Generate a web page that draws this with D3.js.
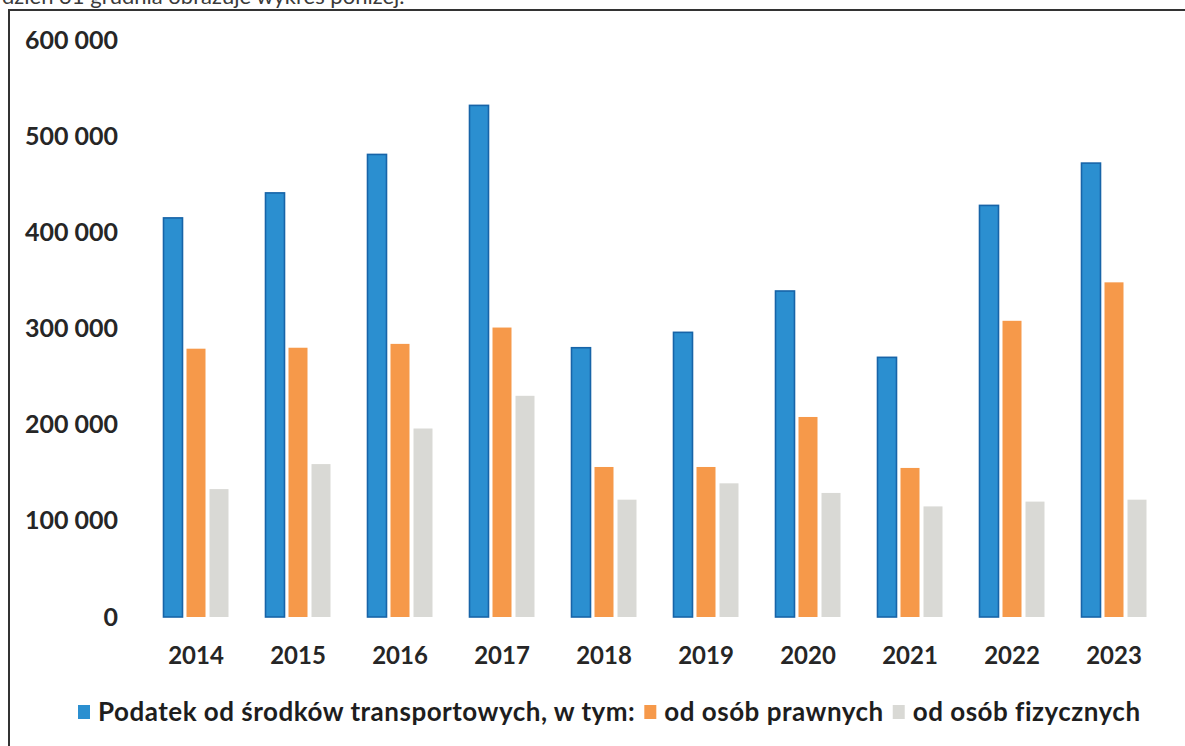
<!DOCTYPE html>
<html>
<head>
<meta charset="utf-8">
<script src="https://cdn.jsdelivr.net/npm/d3@7/dist/d3.min.js"></script>
<style>
  html, body { margin: 0; padding: 0; background: #fff; }
  svg { display: block; }
  text { font-family: Lato, "Open Sans", sans-serif; }
</style>
</head>
<body>
<svg id="chart" width="1185" height="746"></svg>
<script>
const years = ["2014","2015","2016","2017","2018","2019","2020","2021","2022","2023"];
const seriesNames = ["Podatek od środków transportowych, w tym:", "od osób prawnych", "od osób fizycznych"];
const totalTax = [415000, 441000, 481000, 532000, 280000, 296000, 339000, 270000, 428000, 472000];
const legalPersons = [279000, 280000, 284000, 301000, 156000, 156000, 208000, 155000, 308000, 348000];
const naturalPersons = [133000, 159000, 196000, 230000, 122000, 139000, 129000, 115000, 120000, 122000];
const yTicks = [0, 100000, 200000, 300000, 400000, 500000, 600000];
const headerText = "dzień 31 grudnia obrazuje wykres poniżej.";

const colors = ["#2b8fd0", "#f6994a", "#d9d9d5"];
const strokes = ["#1764a8", "none", "none"];
const seriesValues = [totalTax, legalPersons, naturalPersons];

const svg = d3.select("#chart");

// header line of the scanned document (cut by the top edge, as in the scan)
svg.append("text").attr("x", 2).attr("y", 4)
  .attr("font-size", 22).attr("fill", "#3a3a3a").text(headerText);

// frame
svg.append("path")
  .attr("d", "M9,746 L9,10 L1185,10")
  .attr("fill", "none").attr("stroke", "#333").attr("stroke-width", 2);

const y = d3.scaleLinear().domain([0, 600000]).range([617, 40]);
const x = d3.scaleBand().domain(years).range([145, 1165]).paddingInner(0).paddingOuter(0);
const xs = d3.scaleBand().domain(seriesNames).range([-32.5, 32.5]).paddingInner(0.174);

const fmt = v => d3.format(",")(v).replace(/,/g, " ");

// y axis labels
const yAxis = d3.axisLeft(y).tickValues(yTicks).tickFormat(fmt).tickSize(0).tickPadding(0);
const gy = svg.append("g").attr("transform", "translate(118,0)").call(yAxis);
gy.select(".domain").remove();
gy.selectAll("text").attr("font-size", 25).attr("font-weight", 700)
  .attr("fill", "#262626").attr("font-family", "Lato, sans-serif");

// bars
const groups = svg.append("g").selectAll("g").data(years).join("g")
  .attr("transform", d => `translate(${x(d) + x.bandwidth() / 2},0)`);

seriesNames.forEach((s, si) => {
  groups.append("rect")
    .attr("x", xs(s))
    .attr("width", xs.bandwidth())
    .attr("y", (d, i) => y(seriesValues[si][i]))
    .attr("height", (d, i) => y(0) - y(seriesValues[si][i]))
    .attr("fill", colors[si])
    .attr("stroke", strokes[si])
    .attr("stroke-width", si === 0 ? 1.6 : 0);
});

// x axis labels
const xAxis = d3.axisBottom(x).tickSize(0).tickPadding(0);
const gx = svg.append("g").attr("transform", "translate(0,646)").call(xAxis);
gx.select(".domain").remove();
gx.selectAll("text").attr("font-size", 24).attr("font-weight", 700)
  .attr("fill", "#262626").attr("dy", "0.75em").attr("font-family", "Lato, sans-serif");

// legend: laid out sequentially
const legend = svg.append("g").attr("transform", "translate(0,712)");
let cursor = 78;
seriesNames.forEach((name, si) => {
  legend.append("rect").attr("x", cursor).attr("y", -7).attr("width", 12).attr("height", 14)
    .attr("fill", colors[si]);
  const t = legend.append("text").attr("x", cursor + 20).attr("y", 0).attr("dy", "0.35em")
    .attr("font-size", 26).attr("font-weight", 700).attr("fill", "#1e1e1e")
    .attr("letter-spacing", 0.5)
    .text(name);
  cursor = cursor + 20 + t.node().getComputedTextLength() + 9;
});
</script>
</body>
</html>
